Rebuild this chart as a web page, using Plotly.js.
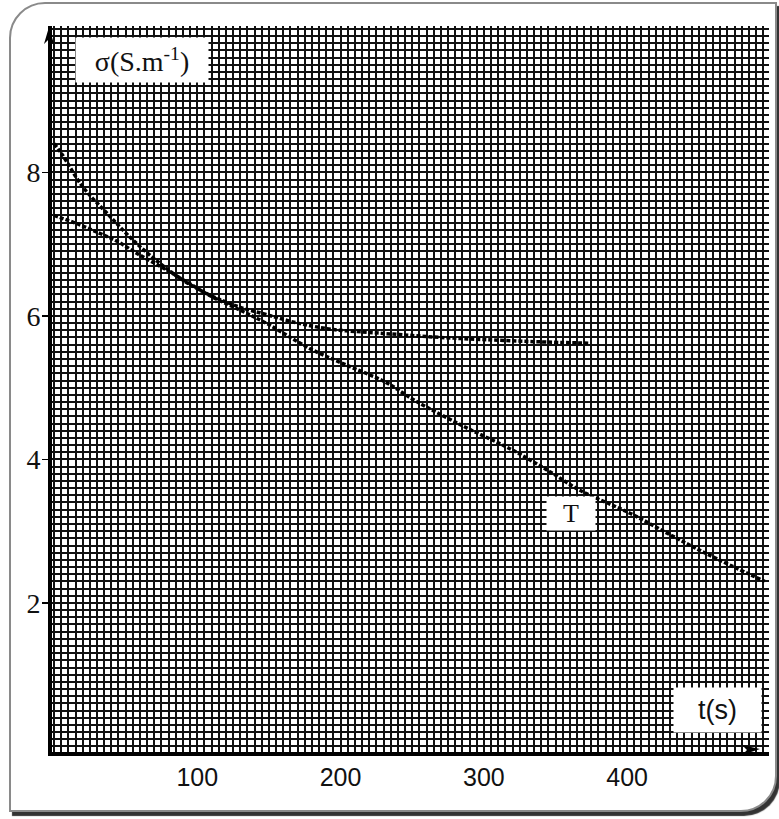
<!DOCTYPE html>
<html>
<head>
<meta charset="utf-8">
<script src="https://cdn.plot.ly/plotly-3.0.1.min.js"></script>
<style>
  html, body { margin: 0; padding: 0; background: #ffffff; }
  #wrap { position: relative; width: 779px; height: 819px; }
  #frame { position: absolute; left: 9px; top: 2px; width: 764px; height: 806px;
           border: 2px solid #8a8a8a; border-radius: 36px 0 36px 0;
           box-shadow: 3px 4px 1px #333; background: #fff; }
  #chart { position: absolute; left: 0; top: 0; width: 779px; height: 819px; }
  #arrows { position: absolute; left: 0; top: 0; pointer-events: none; }
</style>
</head>
<body>
<div id="wrap">
  <div id="frame"></div>
  <div id="chart"></div>
  <svg id="arrows" width="779" height="819">
    <path d="M44,44 L49,27 L54,44 L49,39 Z" fill="#000"/>
    <path d="M742,745 L760,749 L742,755 L747,750 Z" fill="#000"/>
  </svg>
</div>
<script>
// Curve with plateau (upper start)
const tA = [0, 5, 20, 37, 55, 74, 93, 111, 130, 148, 170, 195, 220, 241, 270, 300, 337, 374];
const sigmaA = [8.40, 8.27, 7.80, 7.43, 7.06, 6.73, 6.46, 6.27, 6.12, 6.02, 5.90, 5.81, 5.77, 5.74, 5.70, 5.67, 5.64, 5.62];
// Curve T
const tT = [0, 18, 32, 44, 58, 75, 93, 110, 130, 148, 180, 207, 232, 251, 286, 320, 346, 367, 402, 430, 455, 496];
const sigmaT = [7.40, 7.27, 7.15, 7.04, 6.87, 6.68, 6.47, 6.27, 6.08, 5.90, 5.53, 5.29, 5.07, 4.83, 4.46, 4.13, 3.83, 3.57, 3.25, 2.95, 2.69, 2.30];

const xTicks = [100, 200, 300, 400];
const yTicks = [2, 4, 6, 8];
const yLabel = 'σ(S.m<sup>-1</sup>)';
const xLabel = 't(s)';
const curveLabel = 'T';

const lineStyle = {color: '#000', width: 3.5, dash: '4px,2px', shape: 'spline'};

const data = [
  {x: tA, y: sigmaA, type: 'scatter', mode: 'lines', line: lineStyle, hoverinfo: 'skip'},
  {x: tT, y: sigmaT, type: 'scatter', mode: 'lines', line: lineStyle, hoverinfo: 'skip'}
];

const layout = {
  width: 779, height: 819,
  margin: {l: 52, r: 10, t: 26, b: 67},
  paper_bgcolor: 'rgba(0,0,0,0)',
  plot_bgcolor: '#ffffff',
  showlegend: false,
  xaxis: {
    range: [-1.4, 499], zeroline: false,
    tickvals: xTicks, ticktext: xTicks.map(String),
    ticks: '', ticklabelstandoff: 0,
    tickfont: {family: 'Liberation Sans, Arial, sans-serif', size: 25, color: '#111'},
    showgrid: true, gridcolor: '#111', gridwidth: 2,
    minor: {dtick: 5, tick0: 0, showgrid: true, gridcolor: '#111', gridwidth: 2},
    showline: true, linecolor: '#000', linewidth: 4
  },
  yaxis: {
    range: [-0.077, 10.04], zeroline: false,
    tickvals: yTicks, ticktext: yTicks.map(String),
    ticks: 'outside', ticklen: 6, tickwidth: 1.5, tickcolor: '#000',
    ticklabelstandoff: -4,
    tickfont: {family: 'Liberation Serif, Times New Roman, serif', size: 28, color: '#111'},
    showgrid: true, gridcolor: '#111', gridwidth: 2,
    minor: {dtick: 0.1, tick0: 0, showgrid: true, gridcolor: '#111', gridwidth: 2},
    showline: true, linecolor: '#000', linewidth: 4
  },
  annotations: [
    {xref: 'paper', yref: 'paper', x: 0.1255, y: 0.953, xanchor: 'center', yanchor: 'middle',
     text: yLabel, showarrow: false, bgcolor: '#fff', width: 128, height: 40, borderpad: 2,
     font: {family: 'Liberation Serif, Times New Roman, serif', size: 28, color: '#111'}},
    {xref: 'paper', yref: 'paper', x: 0.9275, y: 0.0579, xanchor: 'center', yanchor: 'middle',
     text: xLabel, showarrow: false, bgcolor: '#fff', width: 83, height: 40, borderpad: 2,
     font: {family: 'Liberation Sans, Arial, sans-serif', size: 27, color: '#111'}},
    {x: 360.8, y: 3.25, xref: 'x', yref: 'y', xanchor: 'center', yanchor: 'middle',
     text: curveLabel, showarrow: false, bgcolor: '#fff', width: 44, height: 29, borderpad: 2,
     font: {family: 'Liberation Serif, Times New Roman, serif', size: 26, color: '#111'}}
  ]
};

Plotly.newPlot('chart', data, layout, {displayModeBar: false, staticPlot: true});
</script>
</body>
</html>
